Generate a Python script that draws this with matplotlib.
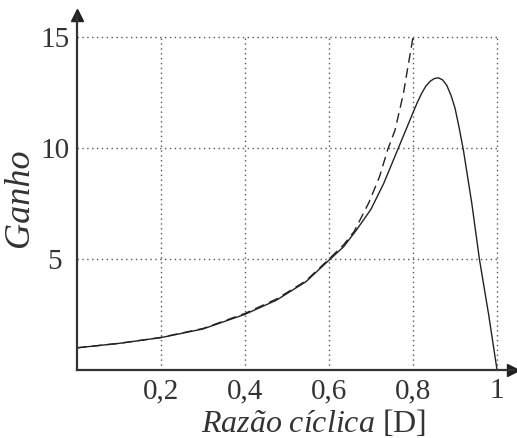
import numpy as np
from matplotlib import pyplot as plt

# gain vs duty cycle
d_real = [0, 0.1, 0.2, 0.3, 0.4, 0.475, 0.545, 0.6, 0.635, 0.665, 0.7, 0.73, 0.765,
          0.8, 0.81, 0.82, 0.83, 0.84, 0.85, 0.86, 0.87, 0.88, 0.89, 0.9, 0.91,
          0.92, 0.94, 0.958, 0.98, 1.0]
g_real = [1.0, 1.2, 1.46, 1.85, 2.51, 3.15, 3.98, 4.95, 5.56, 6.3, 7.25, 8.4, 10.0,
          11.6, 12.05, 12.45, 12.78, 13.0, 13.13, 13.17, 13.08, 12.84, 12.4, 11.8, 10.9,
          9.9, 7.5, 5.0, 2.5, 0.0]

d_ideal = [0, 0.1, 0.2, 0.3, 0.4, 0.475, 0.545, 0.6, 0.635, 0.66, 0.695, 0.72,
           0.74, 0.757, 0.777, 0.785, 0.8]
g_ideal = [1.0, 1.2, 1.47, 1.87, 2.55, 3.2, 4.02, 5.0, 5.65, 6.25, 7.55, 8.7,
           9.95, 10.8, 12.45, 13.35, 15.0]

xticks = [0.2, 0.4, 0.6, 0.8, 1.0]
xlabels = ['0,2', '0,4', '0,6', '0,8', '1']
yticks = [5, 10, 15]

plt.rcParams['font.family'] = ['Liberation Serif', 'DejaVu Serif']
plt.rcParams['mathtext.fontset'] = 'custom'
plt.rcParams['mathtext.rm'] = 'Liberation Serif'
plt.rcParams['mathtext.it'] = 'Liberation Serif:italic'

fig = plt.figure(figsize=(5.17, 4.38), dpi=100)
ax = fig.add_axes([77/517, 68/438, (513-77)/517, (370-15)/438])

# grid only inside the 0..1 x 0..15 box
ax.hlines(yticks, 0, 1, colors='#555555', linestyles=(0, (1, 2.5)), linewidth=1)
ax.vlines(xticks, 0, 15, colors='#555555', linestyles=(0, (1, 2.5)), linewidth=1)

ax.plot(d_ideal, g_ideal, color='#222222', linewidth=1.0, linestyle=(0, (7, 4)))
ax.plot(d_real, g_real, color='#222222', linewidth=1.0)

ax.set_xlim(0, 1.038)
ax.set_ylim(0, 16.0)

for s in ['top', 'right']:
    ax.spines[s].set_visible(False)
for s in ['left', 'bottom']:
    ax.spines[s].set_linewidth(1.6)
    ax.spines[s].set_color('#333333')

# arrow heads
ax.plot(1, 0, '>', color='#222222', markersize=9, transform=ax.transAxes, clip_on=False)
ax.plot(0, 1, '^', color='#222222', markersize=9, transform=ax.transAxes, clip_on=False)

ax.set_xticks(xticks)
ax.set_xticklabels(xlabels)
ax.set_yticks(yticks)
ax.tick_params(length=0, labelsize=21, colors='#333333')
ax.tick_params(axis='x', pad=6)
ax.tick_params(axis='y', pad=16)
for lab in ax.get_yticklabels():
    lab.set_horizontalalignment('center')

fig.text(314/517, 1 - 423/438, r'$\mathit{Razão\ cíclica}$ [D]', ha='center', va='center',
         fontsize=23, color='#333333')
fig.text(20/517, 1 - 198/438, 'Ganho', ha='center', va='center', rotation=90,
         fontsize=26, style='italic', color='#333333')

fig.savefig('out.png', dpi=100)
